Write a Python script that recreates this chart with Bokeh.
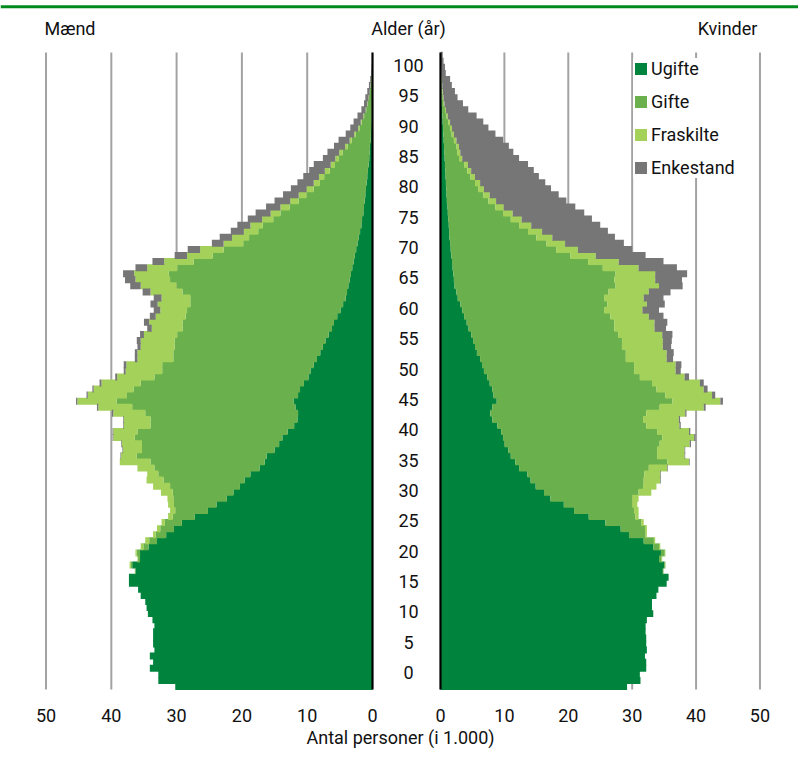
import numpy as np
from bokeh.plotting import figure
from bokeh.models import Range1d, Legend, LegendItem
from bokeh.core.properties import value
from bokeh.embed import file_html
from bokeh.resources import INLINE

# one row per one-year age group, youngest at the bottom
rows = list(range(105))

age_ticks = [0, 5, 10, 15, 20, 25, 30, 35, 40, 45, 50, 55, 60, 65, 70, 75, 80, 85, 90, 95, 100]
age_tick_labels = [str(a) for a in age_ticks]
x_ticks = [0, 10, 20, 30, 40, 50]
x_tick_labels = ["0", "10", "20", "30", "40", "50"]
series_names = ["Ugifte", "Gifte", "Fraskilte", "Enkestand"]

# Men (1,000 persons)
men_ugifte = [30.2, 32.8, 32.8, 34.1, 33.6, 34.1, 33.4, 33.6, 33.6, 33.6,
              33.4, 33.7, 34.4, 34.6, 34.8, 35.5, 35.9, 37.3, 37.3, 36.3,
              36.8, 35.6, 35.6, 34.3, 33.0, 31.6, 30.4, 29.2, 27.2, 25.2,
              23.9, 22.3, 21.3, 20.3, 19.6, 18.7, 17.3, 16.5, 16.2, 15.0,
              14.3, 13.8, 13.0, 12.0, 11.5, 11.4, 11.8, 12.1, 11.4, 11.1,
              10.5, 9.8, 9.5, 9.0, 8.5, 8.0, 7.6, 7.2, 6.7, 6.2,
              5.9, 5.4, 4.9, 4.5, 4.1, 3.9, 3.7, 3.5, 3.3, 3.1,
              2.9, 2.7, 2.5, 2.3, 2.1, 1.9, 1.7, 1.6, 1.4, 1.3,
              1.2, 1.1, 1.0, 0.9, 0.8, 0.7, 0.6, 0.5, 0.45, 0.4,
              0.3, 0.25, 0.2, 0.15, 0.12, 0.1, 0.08, 0.06, 0.05, 0.04,
              0.03, 0.02, 0.01, 0.01, 0.0]
men_gifte = [0, 0, 0, 0, 0, 0, 0, 0, 0, 0,
             0, 0, 0, 0, 0, 0, 0, 0, 0, 0.1,
             0.2, 0.3, 0.5, 0.8, 1.2, 1.6, 2.1, 2.6, 3.4, 5.0,
             6.5, 8.2, 9.3, 10.7, 12.4, 14.1, 16.1, 17.5, 19.9, 20.3,
             21.0, 22.6, 23.0, 22.0, 22.5, 23.4, 25.0, 27.1, 26.2, 25.5,
             25.0, 23.6, 22.7, 23.2, 22.0, 22.5, 22.7, 23.1, 23.2, 22.9,
             23.2, 23.2, 23.5, 23.4, 23.8, 25.2, 26.3, 27.5, 27.9, 26.8,
             24.5, 21.8, 20.3, 17.5, 16.8, 15.6, 15.1, 13.6, 12.7, 11.4,
             10.1, 9.0, 8.0, 7.15, 6.6, 5.85, 5.15, 4.65, 4.15, 3.4,
             2.9, 2.3, 1.8, 1.5, 1.16, 0.87, 0.66, 0.49, 0.34, 0.24,
             0.15, 0.08, 0.05, 0.02, 0.02]
men_fraskilte = [0, 0, 0, 0, 0, 0, 0, 0, 0, 0,
                 0, 0, 0, 0, 0, 0, 0, 0, 0, 0,
                 0.2, 0.1, 0.2, 0.4, 0.6, 0.4, 0.5, 0.5, 0.7, 0.8,
                 0.9, 0.9, 1.8, 2.6, 2.6, 1.7, 2.6, 4.7, 2.4, 2.9,
                 3.1, 3.3, 3.7, 4.1, 4.1, 4.9, 5.2, 6.0, 6.0, 6.1,
                 6.0, 5.7, 5.6, 5.5, 5.5, 5.5, 5.2, 5.2, 5.1, 4.7,
                 5.1, 4.6, 4.1, 5.0, 4.4, 4.9, 5.5, 5.3, 5.3, 4.6,
                 4.5, 3.9, 3.6, 3.0, 2.6, 2.2, 1.9, 1.7, 1.5, 1.4,
                 1.3, 1.2, 1.1, 0.95, 0.8, 0.75, 0.65, 0.55, 0.5, 0.4,
                 0.3, 0.25, 0.2, 0.15, 0.12, 0.08, 0.06, 0.05, 0.03, 0.02,
                 0.02, 0.01, 0.01, 0.01, 0.0]
men_enkestand = [0, 0, 0, 0, 0, 0, 0, 0, 0, 0,
                 0, 0, 0, 0, 0, 0, 0, 0, 0, 0,
                 0, 0, 0, 0, 0, 0, 0, 0, 0, 0,
                 0, 0, 0, 0, 0, 0, 0, 0, 0.1, 0.1,
                 0.1, 0.1, 0.1, 0.1, 0.1, 0.2, 0.2, 0.2, 0.2, 0.2,
                 0.3, 0.3, 0.3, 0.4, 0.4, 0.4, 0.5, 0.6, 0.6, 0.7,
                 0.8, 0.9, 1.0, 1.1, 1.2, 1.2, 1.6, 1.6, 1.7, 1.8,
                 1.8, 1.9, 1.9, 1.8, 1.9, 2.0, 2.0, 2.2, 2.3, 2.2,
                 2.4, 2.4, 2.4, 2.5, 2.4, 2.4, 2.6, 1.9, 1.8, 1.7,
                 1.7, 1.3, 1.2, 1.1, 0.9, 0.65, 0.5, 0.5, 0.38, 0.25,
                 0.15, 0.09, 0.05, 0.03, 0.02]

# Women (1,000 persons)
women_ugifte = [29.2, 31.3, 31.2, 32.2, 32.2, 32.0, 32.3, 32.2, 32.2, 32.1,
                32.1, 32.3, 33.3, 33.1, 33.1, 33.8, 34.1, 35.4, 35.7, 34.8,
                35.0, 34.2, 34.5, 33.3, 31.8, 29.5, 28.2, 25.8, 23.2, 20.9,
                19.3, 17.2, 16.2, 14.9, 14.1, 13.6, 12.3, 11.7, 11.0, 10.6,
                10.0, 9.8, 9.5, 8.9, 8.1, 7.8, 8.1, 8.8, 8.3, 8.1,
                7.7, 7.3, 6.8, 6.5, 6.2, 5.7, 5.4, 5.1, 4.8, 4.4,
                4.1, 3.7, 3.4, 3.1, 2.7, 2.5, 2.2, 2.1, 2.0, 1.9,
                1.8, 1.7, 1.6, 1.5, 1.4, 1.35, 1.3, 1.2, 1.15, 1.1,
                1.0, 0.95, 0.9, 0.85, 0.8, 0.75, 0.7, 0.65, 0.6, 0.55,
                0.5, 0.45, 0.4, 0.35, 0.3, 0.25, 0.2, 0.15, 0.12, 0.1,
                0.08, 0.05, 0.04, 0.03, 0.02]
women_gifte = [0, 0, 0, 0, 0, 0, 0, 0, 0, 0,
               0, 0, 0, 0, 0, 0, 0, 0, 0, 0.1,
               0.2, 0.4, 0.6, 0.9, 1.6, 2.6, 3.8, 5.6, 7.3, 9.4,
               10.7, 12.8, 14.8, 16.8, 17.7, 18.3, 20.3, 23.8, 22.9, 23.3,
               24.3, 24.9, 24.4, 23.3, 23.6, 24.4, 26.2, 27.5, 26.9, 25.7,
               25.4, 23.9, 23.5, 23.8, 22.8, 23.3, 23.0, 23.3, 23.0, 22.8,
               23.1, 22.9, 22.2, 23.0, 22.9, 23.8, 25.2, 25.1, 25.4, 23.5,
               21.3, 18.6, 16.5, 15.1, 13.6, 12.35, 11.0, 9.8, 8.65, 7.5,
               6.5, 5.75, 5.0, 4.55, 3.9, 3.45, 3.0, 2.25, 2.0, 1.95,
               1.6, 1.3, 1.1, 0.9, 0.65, 0.45, 0.3, 0.22, 0.16, 0.12,
               0.08, 0.05, 0.04, 0.03, 0.02]
women_fraskilte = [0, 0, 0, 0, 0, 0, 0, 0, 0, 0,
                   0, 0, 0, 0, 0, 0, 0, 0, 0, 0,
                   0, 0.1, 0.1, 0.2, 0.2, 0.2, 0.3, 0.4, 0.5, 0.7,
                   0.8, 1.0, 2.0, 2.1, 2.6, 2.5, 2.9, 3.4, 4.3, 4.3,
                   4.7, 5.0, 5.0, 5.2, 5.6, 6.1, 6.9, 7.5, 7.3, 7.4,
                   7.5, 7.0, 6.5, 6.5, 6.4, 6.4, 6.4, 6.4, 6.9, 6.3,
                   6.3, 6.0, 6.0, 6.2, 6.2, 6.3, 6.8, 6.4, 6.2, 5.6,
                   4.8, 4.0, 3.4, 2.9, 2.5, 2.2, 1.9, 1.7, 1.5, 1.3,
                   1.2, 1.0, 0.9, 0.8, 0.7, 0.6, 0.6, 0.5, 0.5, 0.4,
                   0.4, 0.35, 0.3, 0.25, 0.2, 0.15, 0.12, 0.1, 0.08, 0.06,
                   0.05, 0.03, 0.02, 0.02, 0.01]
women_enkestand = [0, 0, 0, 0, 0, 0, 0, 0, 0, 0,
                   0, 0, 0, 0, 0, 0, 0, 0, 0, 0,
                   0, 0, 0, 0, 0, 0, 0, 0, 0, 0,
                   0, 0, 0, 0, 0.1, 0.1, 0.1, 0.1, 0.1, 0.1,
                   0.2, 0.2, 0.2, 0.2, 0.2, 0.2, 0.3, 0.4, 0.5, 0.6,
                   0.6, 0.7, 0.8, 0.9, 1.0, 1.1, 1.3, 1.4, 1.6, 1.8,
                   2.0, 2.3, 2.6, 2.8, 3.1, 3.4, 3.7, 4.2, 5.0, 6.0,
                   7.0, 7.8, 8.5, 9.2, 9.8, 10.3, 10.8, 11.0, 11.2, 11.2,
                   11.0, 10.8, 10.5, 10.2, 10.0, 9.8, 9.4, 8.9, 8.3, 7.8,
                   7.3, 6.5, 5.7, 5.2, 4.5, 3.5, 2.9, 2.2, 1.9, 1.5,
                   1.3, 0.7, 0.6, 0.4, 0.3]

colors = ["#00843D", "#6AB04C", "#A3D15A", "#767676"]
FONT = "Roboto"
LABEL_OFFSET = 2.3   # age labels sit a little above the row of the same index

p = figure(width=798, height=750, output_backend="svg", toolbar_location=None,
           x_range=Range1d(-68.86, 56.03), y_range=Range1d(-10.55, 113.01),
           x_axis_location=None, y_axis_location=None, min_border=0)
p.extra_x_ranges = {"men": Range1d(56.97, -65.24)}
p.outline_line_color = None
p.grid.visible = False
p.background_fill_color = "white"
p.border_fill_color = "white"

# grid lines
for rng in ["men", "default"]:
    p.segment(x0=x_ticks[1:], y0=-0.5, x1=x_ticks[1:], y1=104.44,
              line_color="#A3A3A3", line_width=2, x_range_name=rng)

def draw(series, rng):
    acc = np.zeros(len(rows))
    rends = []
    for s, c in zip(series, colors):
        a = np.array(s, dtype=float)
        r = p.hbar(y=rows, left=acc.copy(), right=acc + a, height=1.15,
                   fill_color=c, line_color=None, x_range_name=rng)
        acc = acc + a
        rends.append(r)
    return rends

draw([men_ugifte, men_gifte, men_fraskilte, men_enkestand], "men")
wr = draw([women_ugifte, women_gifte, women_fraskilte, women_enkestand], "default")

# central axis lines
for rng in ["men", "default"]:
    p.segment(x0=0, y0=-0.5, x1=0, y1=104.44, line_color="black",
              line_width=2.2, x_range_name=rng)

# top rule
p.segment(x0=-68.86, y0=112.0, x1=56.03, y1=112.0, line_color="#008A1E", line_width=3)

txt = dict(text_font=value(FONT), text_font_size="18px", text_color="#111111",
           text_baseline="middle")

# age labels
p.text(x=-5.0, y=[a + LABEL_OFFSET for a in age_ticks], text=age_tick_labels,
       text_align="center", **txt)
# value tick labels
p.text(x=x_ticks, y=-4.78, text=x_tick_labels, text_align="center",
       x_range_name="men", **txt)
p.text(x=x_ticks, y=-4.78, text=x_tick_labels, text_align="center", **txt)
# titles
p.text(x=[50.23], y=[108.4], text=["Mænd"], text_align="left", x_range_name="men", **txt)
p.text(x=[-5.0], y=[108.4], text=["Alder (år)"], text_align="center", **txt)
p.text(x=[49.6], y=[108.4], text=["Kvinder"], text_align="right", **txt)
p.text(x=[-6.26], y=[-8.45], text=["Antal personer (i 1.000)"], text_align="center", **txt)

legend = Legend(items=[LegendItem(label=n, renderers=[r]) for n, r in zip(series_names, wr)],
                location=(633, 572), glyph_width=15, glyph_height=15, label_height=20,
                spacing=12, padding=10, margin=0, label_standoff=3,
                label_text_font=FONT, label_text_font_size="18px", label_text_color="#111111",
                border_line_color=None, background_fill_color="white",
                background_fill_alpha=1.0)
p.add_layout(legend)

open("out.html", "w").write(file_html(p, INLINE))
